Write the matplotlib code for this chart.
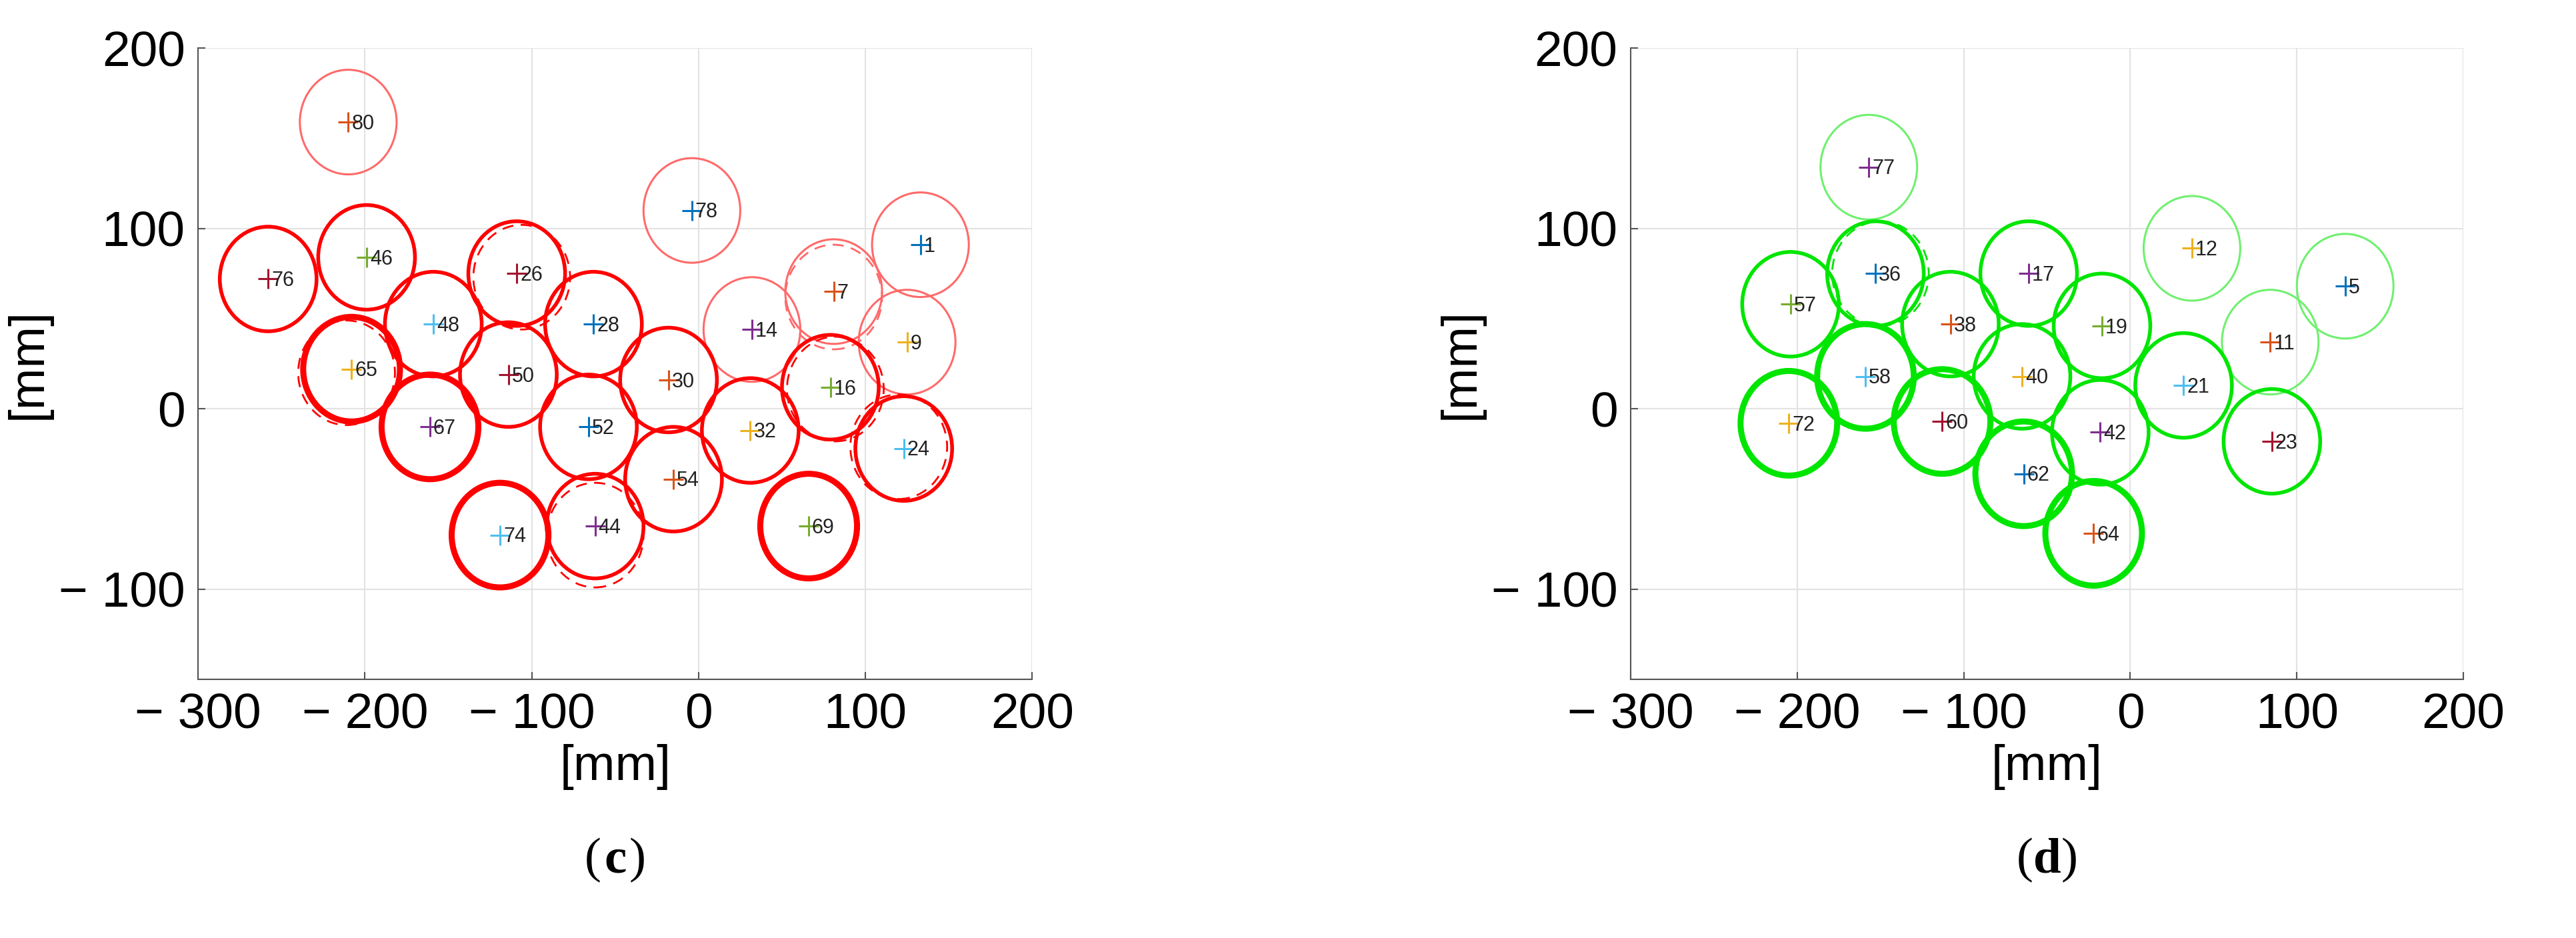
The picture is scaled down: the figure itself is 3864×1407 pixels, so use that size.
import matplotlib
matplotlib.use("Agg")
import matplotlib.pyplot as plt
from matplotlib.patches import Circle

# Panel (c)
c_ids = [80, 78, 1, 76, 46, 26, 7, 48, 28, 14, 9, 65, 50, 30, 16, 67, 52, 32, 24, 54, 44, 69, 74]
c_x = [-210, -4, 133, -258, -199, -109, 81, -159, -63, 32, 125, -208, -114, -18, 79, -161, -66, 31, 123, -15, -62, 66, -119]
c_y = [159, 110, 91, 72, 84, 75, 65, 47, 47, 44, 37, 22, 19, 16, 12, -10, -10, -12, -22, -39, -65, -65, -70]
c_w = ["thin", "thin", "thin", "med", "med", "med", "thin", "med", "med", "thin", "thin", "thick", "med", "med", "med", "thick", "med", "med", "med", "med", "med", "thick", "thick"]
c_mc = ["#D95319", "#0072BD", "#0072BD", "#A2142F", "#77AC30", "#A2142F", "#D95319", "#4DBEEE", "#0072BD", "#7E2F8E", "#EDB120", "#EDB120", "#A2142F", "#D95319", "#77AC30", "#7E2F8E", "#0072BD", "#EDB120", "#4DBEEE", "#D95319", "#7E2F8E", "#77AC30", "#4DBEEE"]
c_dash = {26: (3, -2), 7: (0, -3), 65: (-3, -2), 16: (3, -1), 24: (-3, 1), 44: (0, -5)}

# Panel (d)
d_ids = [77, 12, 5, 36, 17, 57, 38, 19, 11, 58, 40, 21, 72, 60, 42, 23, 62, 64]
d_x = [-157, 37, 129, -153, -61, -204, -108, -17, 84, -159, -65, 32, -205, -113, -18, 85, -64, -22]
d_y = [134, 89, 68, 75, 75, 58, 47, 46, 37, 18, 18, 13, -8, -7, -13, -18, -36, -69]
d_w = ["thin", "thin", "thin", "med", "med", "med", "med", "med", "thin", "thick", "med", "med", "thick", "thick", "med", "med", "thick", "thick"]
d_mc = ["#7E2F8E", "#EDB120", "#0072BD", "#0072BD", "#7E2F8E", "#77AC30", "#D95319", "#77AC30", "#D95319", "#4DBEEE", "#EDB120", "#4DBEEE", "#EDB120", "#A2142F", "#7E2F8E", "#A2142F", "#0072BD", "#D95319"]
d_dash = {36: (3, 0)}

radius = 29
xticks = [-300, -200, -100, 0, 100, 200]
xticklabels = ["\u2212 300", "\u2212 200", "\u2212 100", "0", "100", "200"]
yticks = [-100, 0, 100, 200]
yticklabels = ["\u2212 100", "0", "100", "200"]

fig = plt.figure(figsize=(38.64, 14.07), dpi=100)
plt.rcParams['font.family'] = ['Liberation Sans', 'DejaVu Sans']

def panel(rect, ids, xs, ys, ws, mcs, dash, strong, light):
    ax = fig.add_axes(rect)
    ax.set_xlim(-300, 200)
    ax.set_ylim(-150, 200)
    ax.grid(True, color="#e3e3e3", lw=1.5)
    ax.set_axisbelow(True)
    for s in ["top", "right"]:
        ax.spines[s].set_visible(False)
    for s in ["left", "bottom"]:
        ax.spines[s].set_color("#555555")
        ax.spines[s].set_linewidth(1.5)
    ax.set_xticks(xticks)
    ax.set_xticklabels(xticklabels)
    ax.set_yticks(yticks)
    ax.set_yticklabels(yticklabels)
    ax.tick_params(direction="in", labelsize=54, length=8, width=1.5, color="#555555", pad=14)
    ax.set_xlabel("[mm]", fontsize=54, labelpad=6)
    ax.set_ylabel("[mm]", fontsize=54, labelpad=8)
    lwmap = {"thin": 2.2, "med": 4.0, "thick": 6.5}
    for n, x, y, w, mc in zip(ids, xs, ys, ws, mcs):
        col = light if w == "thin" else strong
        ax.add_patch(Circle((x, y), radius, fill=False, ec=col, lw=lwmap[w]))
        if n in dash:
            dx, dy = dash[n]
            ax.add_patch(Circle((x + dx, y + dy), radius, fill=False, ec=col, lw=2.0, ls=(0, (6, 4))))
        ax.plot(x, y, "+", color=mc, ms=22, mew=2.2)
        ax.text(x + 2, y - 1, str(n), fontsize=22, va="center", ha="left", color="#222222")
    return ax

panel([0.0769, 0.2757, 0.3238, 0.673], c_ids, c_x, c_y, c_w, c_mc, c_dash, "#ff0000", "#ff6a6a")
panel([0.633, 0.2757, 0.3233, 0.673], d_ids, d_x, d_y, d_w, d_mc, d_dash, "#00e600", "#6ff06f")

for xc, letter in [(0.0769 + 0.3238 / 2, "c"), (0.633 + 0.3233 / 2, "d")]:
    fig.text(xc - 0.0055, 0.083, "(", fontsize=54, family="Liberation Serif", ha="right", va="center")
    fig.text(xc, 0.083, letter, fontsize=54, family="Liberation Serif", weight="bold", ha="center", va="center")
    fig.text(xc + 0.0055, 0.083, ")", fontsize=54, family="Liberation Serif", ha="left", va="center")

fig.savefig("out.png", dpi=100, facecolor="white")
